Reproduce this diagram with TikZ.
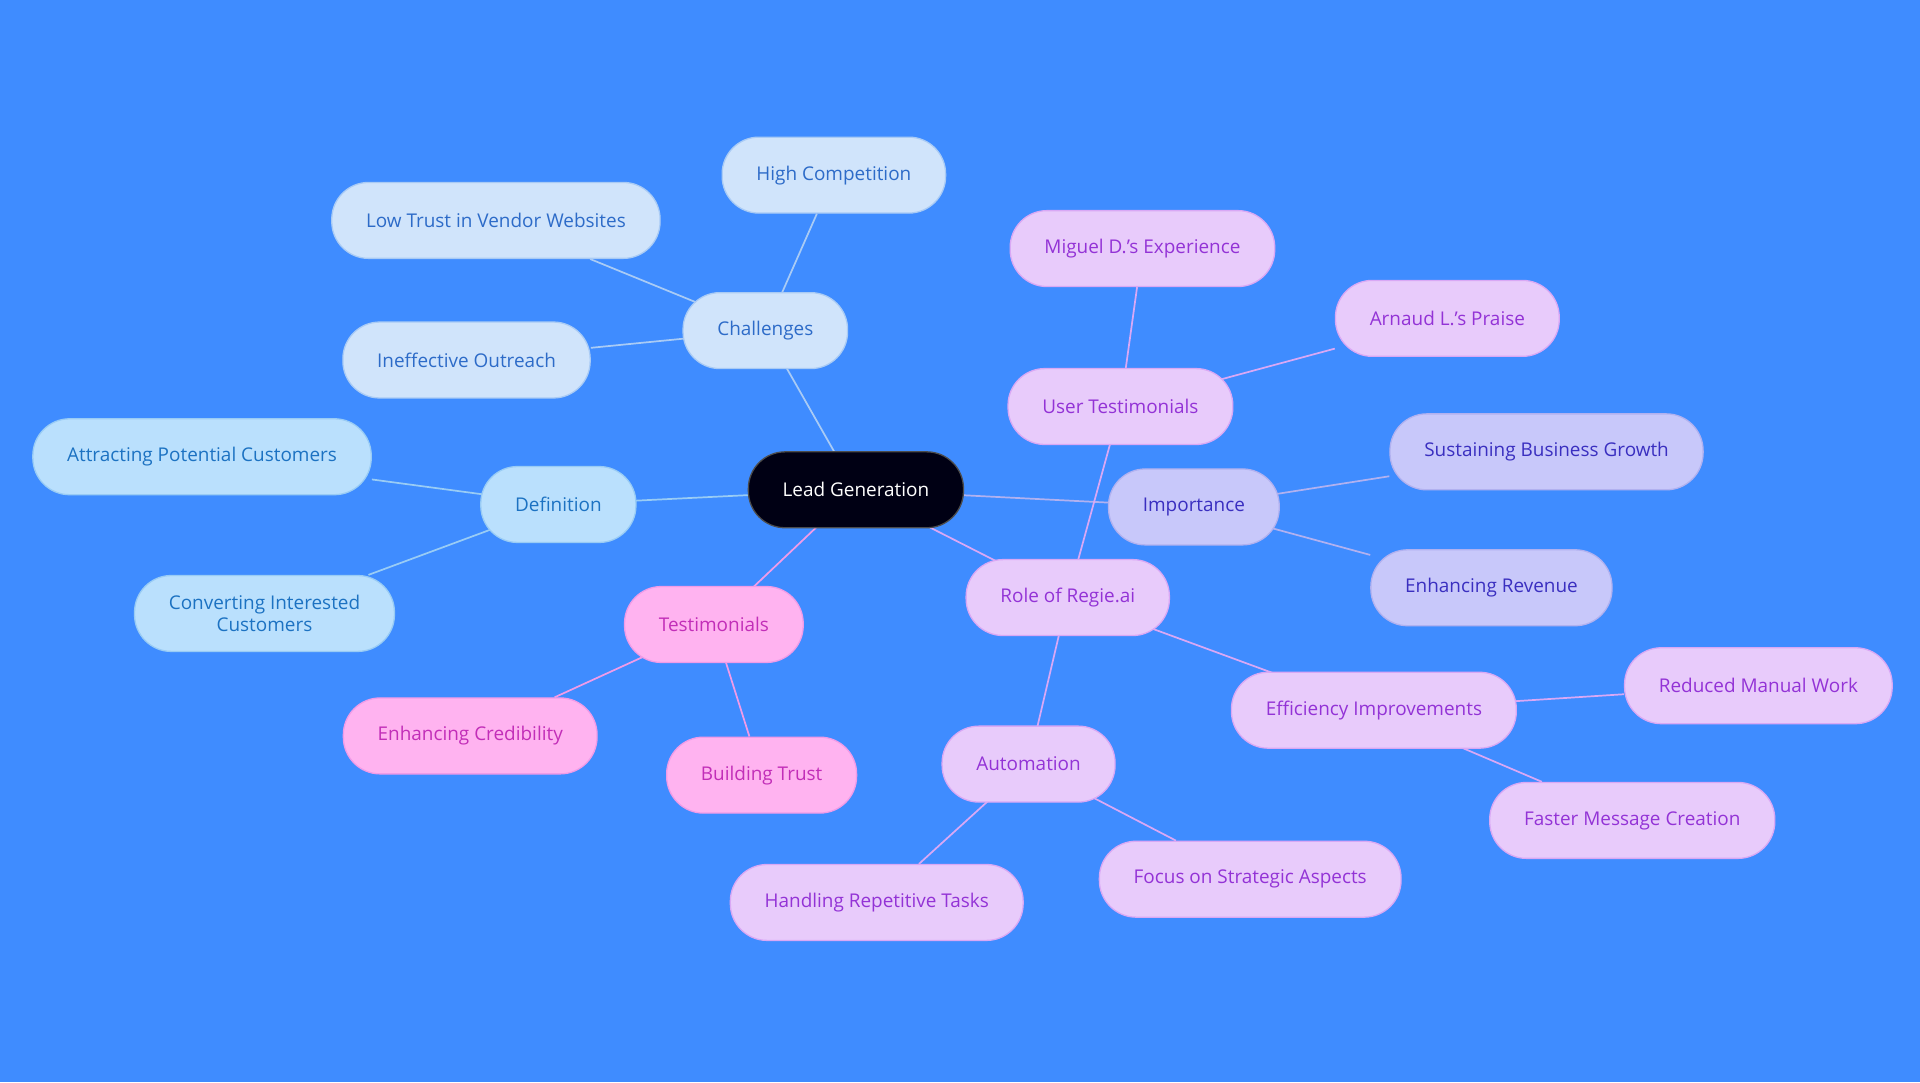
\documentclass[tikz,border=0pt]{standalone}
\usepackage{fontspec}
\setmainfont{Open Sans}
\usetikzlibrary{positioning}
\definecolor{bg}{HTML}{3F8CFF}
\definecolor{chfill}{HTML}{D0E4FB}\definecolor{chtext}{HTML}{2D6BC8}\definecolor{chline}{HTML}{A9CBF5}
\definecolor{dffill}{HTML}{BAE0FD}\definecolor{dftext}{HTML}{1C72C2}\definecolor{dfline}{HTML}{99CCF5}
\definecolor{tsfill}{HTML}{FFB3F0}\definecolor{tstext}{HTML}{C22EB8}\definecolor{tsline}{HTML}{F09BE8}
\definecolor{imfill}{HTML}{C8C8FA}\definecolor{imtext}{HTML}{3A2FC0}\definecolor{imline}{HTML}{B1B1F0}
\definecolor{rlfill}{HTML}{E8CBFB}\definecolor{rltext}{HTML}{9333D6}\definecolor{rlline}{HTML}{D9A8F5}
\begin{document}
\begin{tikzpicture}[x=0.05cm,y=-0.05cm,
  box/.style={rounded corners=1.5cm,minimum height=3.1cm,inner xsep=1.4cm,
    font=\fontsize{22}{26}\selectfont,align=center,line width=1.5pt},
  ch/.style={box,fill=chfill,draw=chline,text=chtext},
  df/.style={box,fill=dffill,draw=dfline,text=dftext},
  ts/.style={box,fill=tsfill,draw=tsline,text=tstext},
  im/.style={box,fill=imfill,draw=imline,text=imtext},
  rl/.style={box,fill=rlfill,draw=rlline,text=rltext},
  link/.style={line width=2pt}]
\fill[bg] (0,0) rectangle (1568,884);
\useasboundingbox (0,0) rectangle (1568,884);

% edges first (drawn under nodes)
\coordinate (lg) at (699,400);
\coordinate (chc) at (625,270); \coordinate (dfc) at (456,412);
\coordinate (tsc) at (583,510); \coordinate (imc) at (975,414);
\coordinate (rlc) at (872,488); \coordinate (utc) at (915,332);
\coordinate (auc) at (840,624); \coordinate (efc) at (1122,580);

\node[ch] (hc) at (681,143) {High Competition};
\node[ch] (lt) at (405,180) {Low Trust in Vendor Websites};
\node[ch] (io) at (381,294) {Ineffective Outreach};
\node[df] (ap) at (165,373) {Attracting Potential Customers};
\node[df] (ci) at (216,501) {Converting Interested\\Customers};
\node[ts] (ec) at (384,601) {Enhancing Credibility};
\node[ts] (bt) at (622,633) {Building Trust};
\node[im] (sb) at (1263,369) {Sustaining Business Growth};
\node[im] (er) at (1218,480) {Enhancing Revenue};
\node[rl] (md) at (933,203) {Miguel D.'s Experience};
\node[rl] (al) at (1182,260) {Arnaud L.'s Praise};
\node[rl] (hr) at (716,737) {Handling Repetitive Tasks};
\node[rl] (fs) at (1021,718) {Focus on Strategic Aspects};
\node[rl] (rm) at (1436,560) {Reduced Manual Work};
\node[rl] (fm) at (1333,670) {Faster Message Creation};

\draw[link,chline] (lg) -- (chc) (chc) -- (hc) (chc) -- (lt) (chc) -- (io);
\draw[link,dfline] (lg) -- (dfc) (dfc) -- (ap) (dfc) -- (ci);
\draw[link,tsline] (lg) -- (tsc) (tsc) -- (ec) (tsc) -- (bt);
\draw[link,imline] (lg) -- (imc) (imc) -- (sb) (imc) -- (er);
\draw[link,rlline] (lg) -- (rlc) (rlc) -- (utc) (rlc) -- (auc) (rlc) -- (efc)
  (utc) -- (md) (utc) -- (al) (auc) -- (hr) (auc) -- (fs) (efc) -- (rm) (efc) -- (fm);

\node[ch] (challenges) at (chc) {Challenges};
\node[df] (definition) at (dfc) {Definition};
\node[ts] (testimonials) at (tsc) {Testimonials};
\node[im] (importance) at (imc) {Importance};
\node[rl] (role) at (rlc) {Role of Regie.ai};
\node[rl] (usert) at (utc) {User Testimonials};
\node[rl] (automation) at (auc) {Automation};
\node[rl] (efficiency) at (efc) {Efficiency Improvements};
\node[box,fill=black!92!blue,draw=black!70,text=white] (lead) at (lg) {Lead Generation};
\end{tikzpicture}
\end{document}
